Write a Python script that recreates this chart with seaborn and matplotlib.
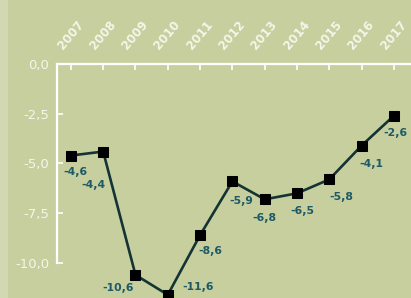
import matplotlib
matplotlib.use("Agg")
import matplotlib.pyplot as plt
import matplotlib.transforms as mtransforms
import matplotlib.patches as mpatches
import seaborn as sns
import pandas as pd

years = ["2007", "2008", "2009", "2010", "2011", "2012", "2013", "2014", "2015", "2016", "2017"]
values = [-4.6, -4.4, -10.6, -11.6, -8.6, -5.9, -6.8, -6.5, -5.8, -4.1, -2.6]
value_labels = ["-4,6", "-4,4", "-10,6", "-11,6", "-8,6", "-5,9", "-6,8", "-6,5", "-5,8", "-4,1", "-2,6"]
y_ticks = [0.0, -2.5, -5.0, -7.5, -10.0]
y_tick_labels = ["0,0", "-2,5", "-5,0", "-7,5", "-10,0"]

# label offsets in pixels (style only)
label_offsets = [(5, -16), (-10, -33), (-17, -13), (30, 8), (10, -16), (9, -20),
                 (0, -19), (5, -18), (12, -18), (10, -18), (2, -17)]

bg = "#c7cf9f"
sns.set_theme(style="white")
plt.rcParams["font.family"] = ["DejaVu Sans"]

fig = plt.figure(figsize=(4.11, 2.98), dpi=100, facecolor=bg)
fig.patches.append(mpatches.Rectangle((0, 0), 8 / 411, 1, transform=fig.transFigure,
                                      facecolor="#d2d8b2", edgecolor="none", zorder=0))
ax = fig.add_axes([57 / 411, 0.0, 1 - 57 / 411, 1 - 64 / 298])
ax.set_facecolor(bg)

df = pd.DataFrame({"x": range(len(years)), "y": values})
sns.lineplot(data=df, x="x", y="y", ax=ax, color="#143433", linewidth=1.9,
             marker="s", markersize=7, markerfacecolor="black",
             markeredgecolor="black", clip_on=False, zorder=3)

for i, (v, lab, off) in enumerate(zip(values, value_labels, label_offsets)):
    ax.annotate(lab, (i, v), xytext=off, textcoords="offset pixels",
                ha="center", va="center", fontsize=7.8, fontweight="bold",
                color="#1d5a66", zorder=4, annotation_clip=False)

ax.set_xlim(-0.43, 10.53)
ax.set_ylim(-11.76, 0)

ax.set_yticks(y_ticks)
ax.set_yticklabels(y_tick_labels)
ax.set_xticks(range(len(years)))
ax.set_xticklabels(years)

ax.xaxis.tick_top()
ax.set_xlabel("")
ax.set_ylabel("")

for s in ["right", "bottom"]:
    ax.spines[s].set_visible(False)
for s in ["left", "top"]:
    ax.spines[s].set_color("white")
    ax.spines[s].set_linewidth(1.6)
ax.spines["left"].set_bounds(-10, 0)

ax.tick_params(axis="y", direction="in", length=4, width=1.2, color="white",
               labelcolor="#f4f6ea", labelsize=9.5, pad=5.5, left=True)
ax.tick_params(axis="x", direction="in", length=4, width=1.2, color="white",
               labelcolor="#f4f6ea", labelsize=8.6, pad=9, top=True, bottom=False,
               labeltop=True, labelbottom=False)
offset = mtransforms.ScaledTranslation(-6 / 100, 0, fig.dpi_scale_trans)
for t in ax.get_xticklabels():
    t.set_rotation(50)
    t.set_ha("left")
    t.set_va("bottom")
    t.set_rotation_mode("anchor")
    t.set_fontweight("bold")
    t.set_transform(t.get_transform() + offset)

ax.grid(False)
fig.savefig("out.png", dpi=100, facecolor=bg)
